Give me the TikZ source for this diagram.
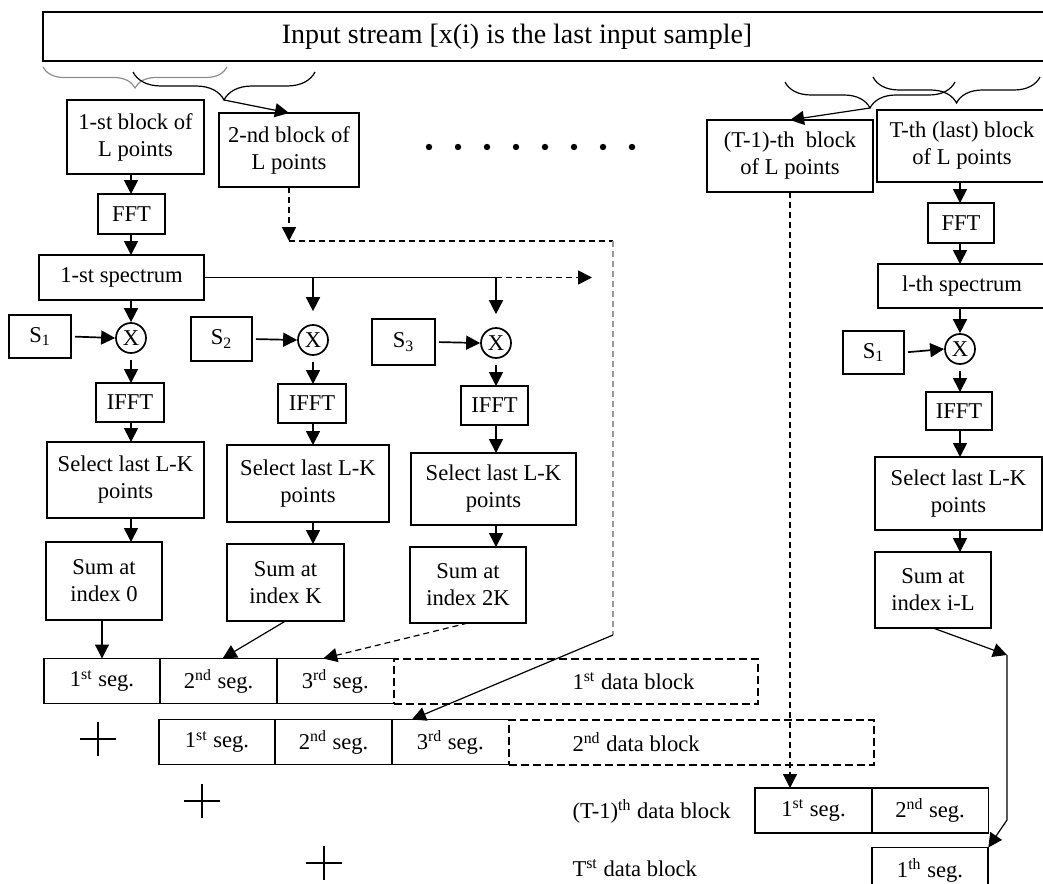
\documentclass[tikz,border=0pt]{standalone}
\usepackage{fontspec}
\setmainfont{Liberation Serif}
\usetikzlibrary{arrows.meta,positioning,decorations.pathreplacing}

\begin{document}
\begin{tikzpicture}[x=0.5pt,y=-0.5pt,
  font=\fontsize{11.3}{13.5}\selectfont,line width=0.85pt,
  >={Triangle[length=7pt,width=7pt]},
  box/.style={draw,align=center,inner sep=1pt,outer sep=0pt},
  seg/.style={box,minimum width=58.3pt,minimum height=22.5pt},
  datablk/.style={draw,dash pattern=on 4pt off 2pt,line width=1pt,
    minimum height=22.5pt,inner sep=0pt,outer sep=0pt},
  mult/.style={draw,circle,inner sep=0pt,minimum size=15pt},
  curly/.style={decorate,line width=0.6pt,decoration={brace,mirror,amplitude=#1}}]
  \useasboundingbox (0,0) rectangle (1043,883);
  \clip (0,0) rectangle (1043,883);
  % input stream and the blocks cut from it
  \draw (43,12) rectangle (1060,61);
  \node[font=\fontsize{14}{16}\selectfont] (inp) at (517,37) {Input stream [x(i) is the last input sample]};
  \draw[curly=10.5pt,black!45] (43,67) -- (227,67);
  \draw[curly=14pt] (133,72) -- (315,72);
  \draw[curly=13pt] (785,82) -- (955,82);
  \draw[curly=13pt] (873,77) -- (1040,77);
  \coordinate (tipL) at (224,100);
  \coordinate (tipR) at (870,108);
  \node[box,minimum width=68.5pt,minimum height=37pt] (b1) at (135.5,137) {1-st block of\\L points};
  \node[box,minimum width=70pt,minimum height=37pt] (b2) at (289,150) {2-nd block of\\L points};
  \node[box,minimum width=83pt,minimum height=36pt] (bT1) at (790,156) {(T-1)-th\ \ block\\of L points};
  \node[box,minimum width=85pt,minimum height=36pt] (bT) at (962,146) {T-th (last) block\\of L points};
  \foreach \k in {0,...,7} \fill (429+29*\k,147) circle (1.6pt);
  \draw[->,line width=0.6pt] (tipL) -- (b2.north);
  \draw[->,line width=0.6pt] (tipR) -- (bT1.north);
  % column axes
  \coordinate (c1) at (131,0);
  \coordinate (c2) at (313,0);
  \coordinate (c3) at (496,0);
  \coordinate (cR) at (960,0);
  % first block
  \node[box,minimum width=33.5pt,minimum height=20pt] (fft1) at (131.5,214) {FFT};
  \node[box,minimum width=82.5pt,minimum height=22.5pt] (sp1) at (121.5,277.5) {1-st spectrum};
  \node[box,minimum width=31pt,minimum height=21.5pt] (s1) at (40,336.5) {S\textsubscript{1}};
  \node[mult] (x1) at (131,338) {X};
  \node[box,minimum width=34pt,minimum height=19.5pt] (ifft1) at (130,402.5) {IFFT};
  \node[box,minimum width=78.5pt,minimum height=38pt] (sel1) at (125.5,480) {Select last L-K\\points};
  \node[box,minimum width=58pt,minimum height=39pt] (sum1) at (104,581) {Sum at\\index 0};
  \draw[->] (b1.south -| c1) -- (fft1.north -| c1);
  \draw[->] (fft1.south -| c1) -- (sp1.north -| c1);
  \draw[->] (sp1.south -| c1) -- (x1.north);
  \draw[->,shorten <=2pt] (s1.east) -- (x1.west);
  \draw[->,shorten <=3pt] (x1.south) -- (ifft1.north -| c1);
  \draw[->] (ifft1.south -| c1) -- (sel1.north -| c1);
  \draw[->] (sel1.south -| c1) -- (sum1.north -| c1);
  % spectrum bus
  \coordinate (busend) at (592,277.5);
  \draw (sp1.east) -- (sp1.east -| c3);
  \draw[->,dash pattern=on 3pt off 2pt] (sp1.east -| c3) -- (busend);
  % second and third multipliers
  \node[box,minimum width=30.5pt,minimum height=22pt] (s2) at (221.5,339) {S\textsubscript{2}};
  \node[mult] (x2) at (313,340) {X};
  \node[box,minimum width=34pt,minimum height=19.5pt] (ifft2) at (312,403.5) {IFFT};
  \node[box,minimum width=81pt,minimum height=38.5pt] (sel2) at (308,483.5) {Select last L-K\\points};
  \node[box,minimum width=58.5pt,minimum height=38.5pt] (sum2) at (285.5,582.5) {Sum at\\index K};
  \node[box,minimum width=31.5pt,minimum height=23pt] (s3) at (403.5,342) {S\textsubscript{3}};
  \node[mult] (x3) at (496,343) {X};
  \node[box,minimum width=33.5pt,minimum height=19.5pt] (ifft3) at (494.5,405.5) {IFFT};
  \node[box,minimum width=82.5pt,minimum height=36pt] (sel3) at (493.5,489) {Select last L-K\\points};
  \node[box,minimum width=58pt,minimum height=38pt] (sum3) at (468,585) {Sum at\\index 2K};
  \draw[->,shorten >=6.5pt] (sp1.east -| c2) -- (x2.north);
  \draw[->,shorten <=2pt] (s2.east) -- (x2.west);
  \draw[->,shorten <=3pt] (x2.south) -- (ifft2.north -| c2);
  \draw[->] (ifft2.south -| c2) -- (sel2.north -| c2);
  \draw[->] (sel2.south -| c2) -- (sum2.north -| c2);
  \draw[->,shorten >=6.5pt] (sp1.east -| c3) -- (x3.north);
  \draw[->,shorten <=2pt] (s3.east) -- (x3.west);
  \draw[->,shorten <=3pt] (x3.south) -- (ifft3.north -| c3);
  \draw[->] (ifft3.south -| c3) -- (sel3.north -| c3);
  \draw[->] (sel3.south -| c3) -- (sum3.north -| c3);
  % last block
  \node[box,minimum width=33pt,minimum height=20pt] (fftR) at (961,223) {FFT};
  \node[box,minimum width=84pt,minimum height=22pt] (spR) at (962,286) {l-th spectrum};
  \node[box,minimum width=30.5pt,minimum height=21.5pt] (sR) at (873.5,352.5) {S\textsubscript{1}};
  \node[mult] (xR) at (960,349) {X};
  \node[box,minimum width=33pt,minimum height=19pt] (ifftR) at (959,411) {IFFT};
  \node[box,minimum width=83.5pt,minimum height=36.5pt] (selR) at (958.5,493.5) {Select last L-K\\points};
  \node[box,minimum width=58pt,minimum height=38pt] (sumR) at (933,590) {Sum at\\index i-L};
  \draw[->] (bT.south -| cR) -- (fftR.north -| cR);
  \draw[->] (fftR.south -| cR) -- (spR.north -| cR);
  \draw[->] (spR.south -| cR) -- (xR.north);
  \draw[->,shorten <=2pt] (sR.east) -- (xR.west);
  \draw[->,shorten <=3pt] (xR.south) -- (ifftR.north -| cR);
  \draw[->] (ifftR.south -| cR) -- (selR.north -| cR);
  \draw[->] (selR.south -| cR) -- (sumR.north -| cR);
  % output data blocks
  \node[seg] (r1s1) at (102,681) {1\textsuperscript{st} seg.};
  \node[seg,right=0pt of r1s1] (r1s2) {2\textsuperscript{nd} seg.};
  \node[seg,draw=none,right=0pt of r1s2] (r1s3) {3\textsuperscript{rd} seg.};
  \draw (r1s3.north east) -- (r1s3.north west) (r1s3.south west) -- (r1s3.south east);
  \node[datablk,minimum width=182pt,right=0pt of r1s3] (db1) {};
  \node[anchor=west] (db1t) at (565,681) {1\textsuperscript{st} data block};
  \node[seg] (r2s1) at (217,742) {1\textsuperscript{st} seg.};
  \node[seg,right=0pt of r2s1] (r2s2) {2\textsuperscript{nd} seg.};
  \node[seg,draw=none,right=0pt of r2s2] (r2s3) {3\textsuperscript{rd} seg.};
  \draw (r2s3.north east) -- (r2s3.north west) (r2s3.south west) -- (r2s3.south east);
  \node[datablk,minimum width=182.5pt,right=0pt of r2s3] (db2) {};
  \node[anchor=west] (db2t) at (565,742) {2\textsuperscript{nd} data block};
  \node[seg] (rT1s1) at (813.5,810.5) {1\textsuperscript{st} seg.};
  \node[seg,right=0pt of rT1s1] (rT1s2) {2\textsuperscript{nd} seg.};
  \node[anchor=west] (dbT1t) at (565,811) {(T-1)\textsuperscript{th} data block};
  \node[seg] (rTs1) at (930,870) {1\textsuperscript{th} seg.};
  \node[anchor=west] (dbTt) at (565,868) {T\textsuperscript{st} data block};
  \foreach \px/\py in {98/739,202/801,324/863}
    \draw[line width=0.7pt] (\px-18,\py) -- (\px+18,\py) (\px,\py-17) -- (\px,\py+17);
  % partial sums into the segments
  \draw[->,line width=0.6pt] (sum1.south -| r1s1) -- (r1s1.north);
  \draw[->,line width=0.6pt] (sum2.south) -- ([xshift=2pt]r1s2.north);
  \draw[->,line width=0.6pt,densely dashed] (sum3.south) -- ([xshift=-6pt]r1s3.north);
  % second block route
  \coordinate (dA) at (289,241);
  \coordinate (dB) at (613,241);
  \coordinate (dC) at (613,635);
  \draw[->,dash pattern=on 3pt off 2pt] (b2.south) -- (dA);
  \draw[dash pattern=on 3pt off 2pt] (dA) -- (dB);
  \draw[black!40,densely dashed,line width=0.6pt] (dB) -- (dC);
  \draw[->,line width=0.6pt] (dC) -- ([xshift=10pt]r2s3.north west);
  % (T-1)-th and last block routes
  \draw[->,densely dashed,line width=0.6pt] (bT1.south) -- (bT1.south |- rT1s1.north);
  \coordinate (k1) at (1007,655);
  \coordinate (k2) at (1007,820);
  \draw[->,line width=0.6pt] (sumR.south) -- (k1);
  \draw[->,line width=0.6pt] (k1) -- (k2) -- (rTs1.north east);
\end{tikzpicture}
\end{document}
